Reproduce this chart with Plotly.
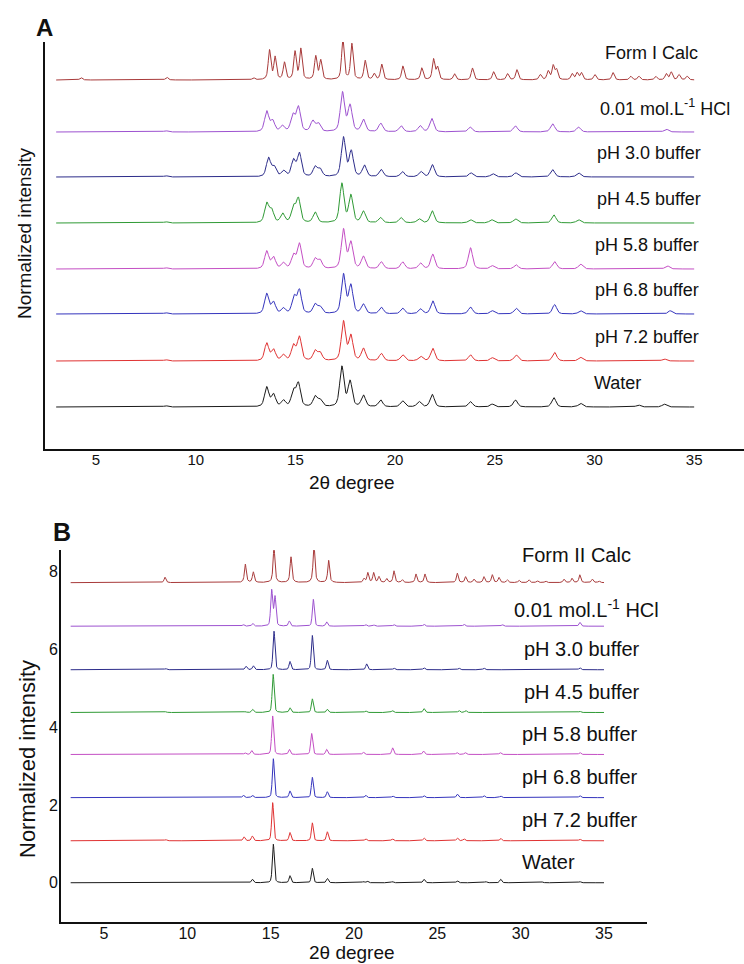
import numpy as np
import plotly.graph_objects as go

# ---------------- DATA ----------------
labels_A = ["Form I Calc", "0.01 mol.L<sup>-1</sup> HCl", "pH 3.0 buffer", "pH 4.5 buffer",
            "pH 5.8 buffer", "pH 6.8 buffer", "pH 7.2 buffer", "Water"]
labels_B = ["Form II Calc", "0.01 mol.L<sup>-1</sup> HCl", "pH 3.0 buffer", "pH 4.5 buffer",
            "pH 5.8 buffer", "pH 6.8 buffer", "pH 7.2 buffer", "Water"]
colors = ["#a83a3a", "#9d52d0", "#2c2c8a", "#2f9a35", "#c44fc4", "#3434bd", "#e03232", "#1a1a1a"]

offsets_A = [8.175, 6.875, 5.75, 4.6, 3.45, 2.325, 1.15, 0.0]
offsets_B = [7.72, 6.6, 5.48, 4.38, 3.30, 2.19, 1.08, 0.0]

x_ticks = [5, 10, 15, 20, 25, 30, 35]
y_ticks_B = [0, 2, 4, 6, 8]

# Panel A peak lists (2theta, relative intensity %)
A_formI_pos = [4.25, 8.55, 12.9, 13.70, 13.98, 14.45, 14.98, 15.27, 16.02, 16.27, 17.38, 17.83, 18.50,
               18.95, 19.33, 20.39, 21.34, 21.93, 22.13, 22.98, 23.88, 24.94, 25.64, 26.11, 27.28,
               27.68, 27.93, 28.10, 28.88, 29.13, 29.35, 30.02, 30.93, 31.82, 32.23, 33.07, 33.60,
               33.85, 34.24, 34.65]
A_formI_int = [6, 7, 5, 72, 55, 42, 68, 75, 57, 47, 100, 88, 47,
               15, 38, 34, 29, 50, 30, 15, 29, 20, 15, 25, 13,
               21, 34, 24, 15, 17, 17, 13, 18, 9, 9, 9, 15,
               19, 13, 9]
A_hcl_pos = [8.5, 13.56, 13.86, 14.35, 14.87, 15.15, 15.87, 16.15, 17.36, 17.74, 18.41, 19.28, 20.30,
             21.26, 21.84, 23.77, 26.03, 27.90, 29.20, 33.60]
A_hcl_int = [3, 50, 26, 14, 40, 60, 26, 20, 96, 64, 30, 21, 15, 15, 33, 12, 15, 20, 12, 7]
A_ph30_pos = [8.5, 13.65, 13.93, 14.40, 14.90, 15.20, 15.99, 16.24, 17.41, 17.80, 18.46, 19.30, 20.37,
              21.29, 21.87, 23.80, 24.90, 26.05, 27.90, 29.20]
A_ph30_int = [3, 46, 24, 14, 40, 57, 24, 18, 96, 62, 28, 18, 13, 13, 30, 10, 8, 10, 18, 10]
A_ph45_pos = [8.5, 13.56, 13.81, 14.36, 14.90, 15.15, 15.99, 17.33, 17.78, 18.41, 19.27, 20.30, 21.20,
              21.86, 23.78, 24.84, 26.04, 27.96, 29.20]
A_ph45_int = [3, 47, 30, 22, 38, 58, 26, 96, 67, 28, 13, 13, 10, 30, 8, 8, 10, 20, 8]
A_ph58_pos = [8.5, 13.56, 13.90, 14.40, 14.90, 15.20, 15.99, 16.24, 17.41, 17.78, 18.41, 19.31, 20.38,
              21.28, 21.89, 23.78, 24.87, 26.07, 28.00, 29.30, 33.65]
A_ph58_int = [3, 43, 28, 14, 33, 61, 24, 20, 96, 64, 30, 17, 17, 14, 36, 52, 8, 10, 18, 12, 8]
A_ph68_pos = [8.5, 13.56, 13.90, 14.40, 14.93, 15.20, 15.99, 16.24, 17.41, 17.78, 18.41, 19.31, 20.38,
              21.28, 21.89, 23.78, 24.87, 26.07, 28.00, 29.30, 33.80]
A_ph68_int = [3, 49, 28, 13, 41, 57, 23, 16, 96, 69, 23, 16, 14, 12, 32, 17, 8, 14, 23, 8, 8]
A_ph72_pos = [8.5, 13.56, 13.90, 14.40, 14.90, 15.20, 15.99, 16.24, 17.41, 17.78, 18.41, 19.31, 20.38,
              21.28, 21.89, 23.78, 24.87, 26.07, 28.00, 29.30, 33.50]
A_ph72_int = [3, 43, 27, 14, 37, 58, 24, 19, 96, 61, 30, 18, 15, 11, 31, 15, 8, 15, 21, 9, 5]
A_water_pos = [8.5, 13.56, 13.90, 14.40, 14.90, 15.15, 15.99, 16.24, 17.33, 17.74, 18.41, 19.27, 20.37,
               21.20, 21.86, 23.78, 24.87, 26.04, 27.96, 29.30, 32.20, 33.50]
A_water_int = [3, 48, 30, 15, 38, 56, 25, 16, 98, 62, 28, 17, 15, 13, 31, 13, 7, 17, 23, 9, 5, 7]

# Panel B peak lists (2theta, relative intensity %)
B_formII_pos = [8.66, 13.48, 13.96, 15.20, 16.22, 17.60, 18.48, 20.60, 20.83, 21.18, 21.50, 21.96, 22.40,
                22.90, 23.72, 24.26, 26.20, 26.70, 27.20, 27.80, 28.30, 28.70, 29.20, 29.90, 30.50,
                31.00, 31.50, 32.60, 33.08, 33.55, 34.30, 34.70]
B_formII_int = [14, 47, 27, 90, 66, 98, 57, 10, 25, 25, 15, 10, 30,
                7, 22, 22, 24, 15, 9, 15, 20, 13, 7, 6, 7,
                5, 4, 9, 11, 20, 9, 4]
B_hcl_pos = [13.36, 13.92, 15.06, 15.26, 16.12, 17.56, 18.36, 20.70, 21.20, 22.40, 24.20, 26.60, 28.90, 33.55]
B_hcl_int = [4, 7, 92, 75, 13, 69, 11, 4, 3, 4, 5, 5, 4, 10]
B_ph30_pos = [8.7, 13.52, 13.96, 15.20, 16.16, 17.50, 18.40, 20.76, 22.40, 24.20, 26.30, 27.80, 33.55]
B_ph30_int = [3, 9, 10, 99, 21, 88, 24, 15, 4, 5, 4, 4, 5]
B_ph45_pos = [8.7, 13.48, 13.92, 15.15, 16.16, 17.50, 18.40, 20.70, 22.30, 24.20, 26.30, 26.70, 33.55]
B_ph45_int = [2, 2, 8, 98, 12, 35, 8, 4, 5, 10, 5, 5, 3]
B_ph58_pos = [13.46, 13.86, 15.12, 16.12, 17.46, 18.36, 20.56, 22.32, 24.17, 26.17, 26.67, 28.77, 33.55]
B_ph58_int = [4, 10, 99, 13, 54, 13, 6, 17, 9, 5, 5, 5, 5]
B_ph68_pos = [13.36, 13.90, 15.16, 16.16, 17.50, 18.40, 20.70, 22.32, 24.20, 26.20, 27.80, 28.80, 33.55]
B_ph68_int = [6, 6, 100, 17, 52, 15, 6, 4, 5, 9, 5, 4, 5]
B_ph72_pos = [8.7, 13.40, 13.90, 15.12, 16.16, 17.50, 18.40, 20.70, 22.30, 24.20, 26.20, 26.60, 28.80, 33.55]
B_ph72_int = [3, 10, 12, 98, 21, 46, 23, 5, 5, 7, 7, 5, 6, 4]
B_water_pos = [13.90, 15.16, 16.16, 17.50, 18.40, 20.56, 20.80, 22.30, 24.20, 26.20, 27.90, 28.80, 31.30, 33.55]
B_water_int = [9, 99, 18, 37, 11, 3, 4, 3, 9, 5, 3, 9, 2, 3]

A_pos = [A_formI_pos, A_hcl_pos, A_ph30_pos, A_ph45_pos, A_ph58_pos, A_ph68_pos, A_ph72_pos, A_water_pos]
A_int = [A_formI_int, A_hcl_int, A_ph30_int, A_ph45_int, A_ph58_int, A_ph68_int, A_ph72_int, A_water_int]
B_pos = [B_formII_pos, B_hcl_pos, B_ph30_pos, B_ph45_pos, B_ph58_pos, B_ph68_pos, B_ph72_pos, B_water_pos]
B_int = [B_formII_int, B_hcl_int, B_ph30_int, B_ph45_int, B_ph58_int, B_ph68_int, B_ph72_int, B_water_int]

# ---------------- profile construction (pseudo-Voigt peaks) ----------------
tt = np.arange(3.0, 35.0001, 0.01)


def pattern(pos, inten, fwhm, eta):
    y = np.zeros_like(tt)
    for p, h in zip(pos, inten):
        d = (tt - p) / (fwhm / 2.0)
        g = np.exp(-np.log(2) * d ** 2)
        l = 1.0 / (1.0 + d ** 2)
        y += h / 100.0 * (eta * l + (1 - eta) * g)
    return y


FONT = "Arial, Liberation Sans, sans-serif"
W, H = 744, 964

fig = go.Figure()

for i in range(8):
    if i == 0:
        prof = pattern(A_pos[i], A_int[i], 0.15, 0.6)
    else:
        prof = pattern(A_pos[i], A_int[i], 0.25, 0.45)
    fig.add_trace(go.Scatter(x=tt, y=prof * 1.02 + offsets_A[i], mode="lines",
                             line=dict(color=colors[i], width=1), xaxis="x", yaxis="y",
                             showlegend=False, hoverinfo="skip"))
for i in range(8):
    if i == 0:
        prof = pattern(B_pos[i], B_int[i], 0.13, 0.75)
    else:
        prof = pattern(B_pos[i], B_int[i], 0.14, 0.35)
    fig.add_trace(go.Scatter(x=tt, y=prof + offsets_B[i], mode="lines",
                             line=dict(color=colors[i], width=1), xaxis="x2", yaxis="y2",
                             showlegend=False, hoverinfo="skip"))

ann = []
# series labels
for i in range(8):
    ya = offsets_A[i] + (0.675 if i == 0 else 0.6)
    xa = [30.45, 30.2, 30.05, 30.05, 29.95, 29.95, 29.95, 29.9][i]
    ann.append(dict(x=xa, y=ya, xref="x", yref="y", text=labels_A[i], showarrow=False,
                    xanchor="left", yanchor="middle", font=dict(family=FONT, size=18, color="#111")))
for i in range(8):
    yb = offsets_B[i] + (0.7 if i == 0 else (0.46 if i == 1 else 0.53))
    xb = [29.95, 29.5, 30.1, 30.1, 29.95, 29.95, 29.95, 29.95][i]
    ann.append(dict(x=xb, y=yb, xref="x2", yref="y2", text=labels_B[i], showarrow=False,
                    xanchor="left", yanchor="middle", font=dict(family=FONT, size=20, color="#111")))


def P(px, py):
    return px / W, 1 - py / H


for txt, (px, py), size, ang, bold in [
    ("2θ degree", (352, 482), 19, 0, False),
    ("2θ degree", (352, 952), 19, 0, False),
    ("Normalized intensity", (24, 233), 19, -90, False),
    ("Normalized intensity", (27, 759), 22, -90, False),
    ("A", (44, 27), 24, 0, True),
    ("B", (62, 532), 25, 0, True),
]:
    xp, yp = P(px, py)
    ann.append(dict(x=xp, y=yp, xref="paper", yref="paper", text=f"<b>{txt}</b>" if bold else txt,
                    showarrow=False, textangle=ang, xanchor="center", yanchor="middle",
                    font=dict(family=FONT, size=size, color="#111")))

axis_common = dict(showgrid=False, zeroline=False, showline=True, linecolor="#111", ticks="")

fig.update_layout(
    width=W, height=H, margin=dict(l=0, r=0, t=0, b=0),
    paper_bgcolor="white", plot_bgcolor="white",
    font=dict(family=FONT, color="#111"),
    xaxis=dict(domain=[45 / W, 1.0], range=[2.44, 37.5], tickvals=x_ticks, anchor="y",
               linewidth=1.5, tickfont=dict(size=15), ticklabelstandoff=-4, **axis_common),
    yaxis=dict(domain=[1 - 449 / H, 1 - 42 / H], range=[-1.05, 9.125], showticklabels=False,
               anchor="x", linewidth=2, **axis_common),
    xaxis2=dict(domain=[61 / W, 647 / W], range=[2.42, 37.58], tickvals=x_ticks, anchor="y2",
                linewidth=1.5, tickfont=dict(size=16), ticklabelstandoff=-4, **axis_common),
    yaxis2=dict(domain=[1 - 922 / H, 1 - 550 / H], range=[-1.01, 8.56], tickvals=y_ticks_B,
                anchor="x2", linewidth=2, tickfont=dict(size=16), ticklabelstandoff=-2,
                **axis_common),
    annotations=ann,
)

fig.write_html("out.html", config={"displayModeBar": False},
               post_script="document.body.style.margin='0';document.body.style.overflow='hidden';")
